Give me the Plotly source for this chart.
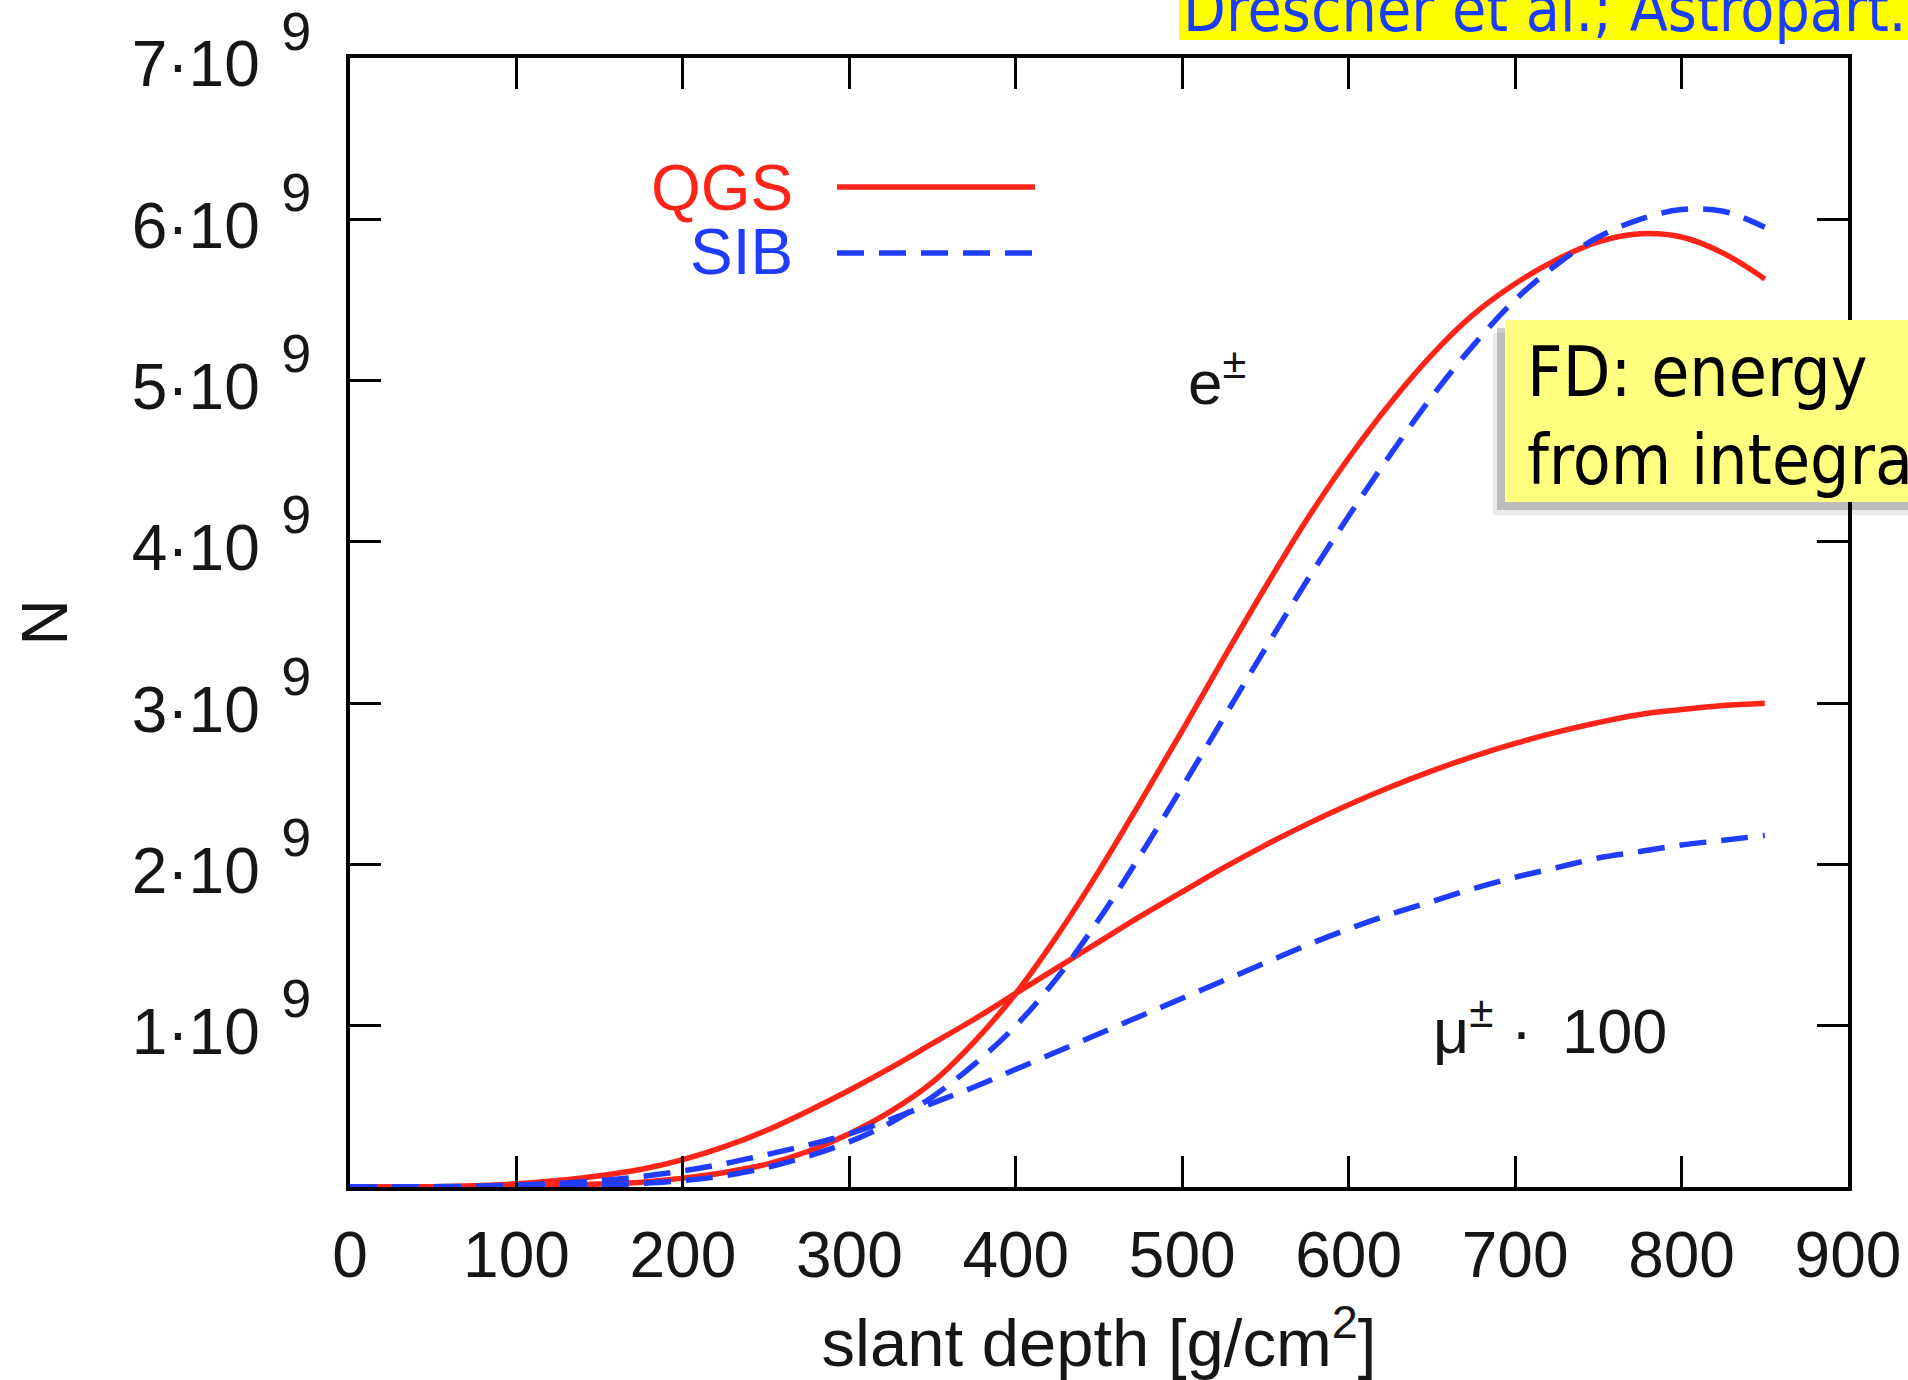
import plotly.graph_objects as go

# ---------------- data (N in units of 1e9) ----------------
depth = [0, 25, 50, 75, 100, 125, 150, 175, 200, 225, 250, 275, 300, 325, 350, 375,
         400, 425, 450, 475, 500, 525, 550, 575, 600, 625, 650, 675, 700, 725, 750,
         775, 800, 825, 850]

qgs_e = [0, 0, 0.0, 0.002, 0.005, 0.01, 0.018, 0.03, 0.055, 0.09, 0.14, 0.22, 0.33,
         0.47, 0.65, 0.9, 1.2, 1.56, 1.96, 2.39, 2.83, 3.28, 3.72, 4.14, 4.52, 4.86,
         5.16, 5.41, 5.6, 5.75, 5.86, 5.91, 5.89, 5.79, 5.63]

qgs_mu = [0, 0.0, 0.002, 0.008, 0.02, 0.04, 0.07, 0.11, 0.17, 0.25, 0.35, 0.47, 0.6,
          0.74, 0.89, 1.04, 1.2, 1.36, 1.52, 1.68, 1.83, 1.98, 2.12, 2.25, 2.37, 2.48,
          2.58, 2.67, 2.75, 2.82, 2.88, 2.93, 2.96, 2.985, 3.0]

sib_e = [0, 0, 0, 0.001, 0.003, 0.006, 0.012, 0.022, 0.04, 0.07, 0.12, 0.19, 0.28,
         0.4, 0.56, 0.76, 1.0, 1.3, 1.66, 2.06, 2.48, 2.91, 3.34, 3.76, 4.16, 4.54,
         4.9, 5.22, 5.5, 5.72, 5.89, 6.0, 6.06, 6.05, 5.95]

sib_mu = [0, 0, 0.002, 0.005, 0.012, 0.022, 0.04, 0.065, 0.1, 0.145, 0.2, 0.26, 0.33,
          0.42, 0.52, 0.62, 0.73, 0.84, 0.95, 1.06, 1.17, 1.28, 1.39, 1.5, 1.6, 1.69,
          1.77, 1.85, 1.92, 1.98, 2.04, 2.08, 2.12, 2.15, 2.18]

scale = 1e9
x_ticks = [0, 100, 200, 300, 400, 500, 600, 700, 800, 900]
y_tick_mult = [1, 2, 3, 4, 5, 6, 7]
y_tick_labels = [f"{m}·10<sup>&nbsp;\u2009<span style='font-size:54px;baseline-shift:10px'>9</span></sup>"
                 for m in y_tick_mult]

RED = "#ff2418"
BLUE = "#1f3cff"
LW = 5.5
DASH = "27px,15px"

fig = go.Figure()
for ys in (qgs_e, qgs_mu):
    fig.add_trace(go.Scatter(x=depth, y=[v * scale for v in ys], mode="lines",
                             line=dict(color=RED, width=LW, shape="spline"),
                             showlegend=False, hoverinfo="skip"))
for ys in (sib_e, sib_mu):
    fig.add_trace(go.Scatter(x=depth, y=[v * scale for v in ys], mode="lines",
                             line=dict(color=BLUE, width=LW, dash=DASH, shape="spline"),
                             showlegend=False, hoverinfo="skip"))

L, R, T, B = 350, 1848, 58, 1187
W, H = 1908, 1380


def px(x):
    return (x - L) / (R - L)


def py(y):
    return (B - y) / (B - T)


FONT = "Liberation Sans, Arial, Helvetica, sans-serif"
TAHOMA = "DejaVu Sans Condensed, DejaVu Sans, sans-serif"
INK = "#161616"

axis_common = dict(showline=True, linewidth=4, linecolor="black", mirror="allticks",
                   ticks="inside", ticklen=31, tickwidth=3, tickcolor="black",
                   showgrid=False, zeroline=False, automargin=False,
                   tickfont=dict(family=FONT, size=64, color=INK))

fig.update_xaxes(range=[0, 900], tickvals=x_ticks, ticklabelstandoff=9,
                 title=dict(text="slant depth [g/cm<sup>2</sup>]",
                            font=dict(family=FONT, size=67, color=INK), standoff=32),
                 **axis_common)
fig.update_yaxes(range=[0, 7 * scale], tickvals=[m * scale for m in y_tick_mult],
                 ticktext=y_tick_labels, ticklabelstandoff=22, ticklabelshift=6,
                 title=dict(text="N", font=dict(family=FONT, size=64, color=INK),
                            standoff=44),
                 **axis_common)

shapes = []
# legend samples
shapes.append(dict(type="line", xref="paper", yref="paper", x0=px(837), x1=px(1035),
                   y0=py(187), y1=py(187), line=dict(color=RED, width=LW)))
shapes.append(dict(type="line", xref="paper", yref="paper", x0=px(837), x1=px(1035),
                   y0=py(253), y1=py(253), line=dict(color=BLUE, width=LW, dash=DASH)))
# citation box (top)
shapes.append(dict(type="rect", xref="paper", yref="paper", x0=px(1179), x1=px(1915),
                   y0=py(40), y1=py(-5), fillcolor="#ffff00", line=dict(width=0),
                   layer="above"))
# FD box with soft shadow
shapes.append(dict(type="rect", xref="paper", yref="paper", x0=px(1493), x1=px(1915),
                   y0=py(515), y1=py(333), fillcolor="rgba(0,0,0,0.08)",
                   line=dict(width=0), layer="above"))
shapes.append(dict(type="rect", xref="paper", yref="paper", x0=px(1497), x1=px(1915),
                   y0=py(510), y1=py(328), fillcolor="rgba(0,0,0,0.2)",
                   line=dict(width=0), layer="above"))
shapes.append(dict(type="rect", xref="paper", yref="paper", x0=px(1505), x1=px(1915),
                   y0=py(502), y1=py(320), fillcolor="#ffff80", line=dict(width=0),
                   layer="above"))

ann = []
ann.append(dict(text="QGS", x=px(795), y=py(188), xanchor="right", yanchor="middle",
                font=dict(family=FONT, size=64, color=RED)))
ann.append(dict(text="SIB", x=px(795), y=py(252), xanchor="right", yanchor="middle",
                font=dict(family=FONT, size=64, color=BLUE)))
ann.append(dict(text="e<sup>±</sup>", x=px(1186), y=py(378), xanchor="left",
                yanchor="middle", font=dict(family=FONT, size=62, color=INK)))
ann.append(dict(text="μ<sup>±</sup> · \u2009100", x=px(1431), y=py(1026),
                xanchor="left", yanchor="middle",
                font=dict(family=FONT, size=63, color=INK)))
ann.append(dict(text="Drescher et al.; Astropart.", x=px(1181), y=py(9),
                xanchor="left", yanchor="middle",
                font=dict(family=TAHOMA, size=62, color="#1a3cff")))
ann.append(dict(text="FD: energy&nbsp;&nbsp;deposit", x=px(1525), y=py(372),
                xanchor="left", yanchor="middle",
                font=dict(family=TAHOMA, size=69, color="black")))
ann.append(dict(text="from integral", x=px(1525), y=py(460), xanchor="left",
                yanchor="middle", font=dict(family=TAHOMA, size=69, color="black")))
for a in ann:
    a.update(xref="paper", yref="paper", showarrow=False)

fig.update_layout(width=W, height=H, margin=dict(l=L, r=W - R, t=T, b=H - B),
                  paper_bgcolor="white", plot_bgcolor="white",
                  shapes=shapes, annotations=ann, showlegend=False)

fig.write_html("out.html")
